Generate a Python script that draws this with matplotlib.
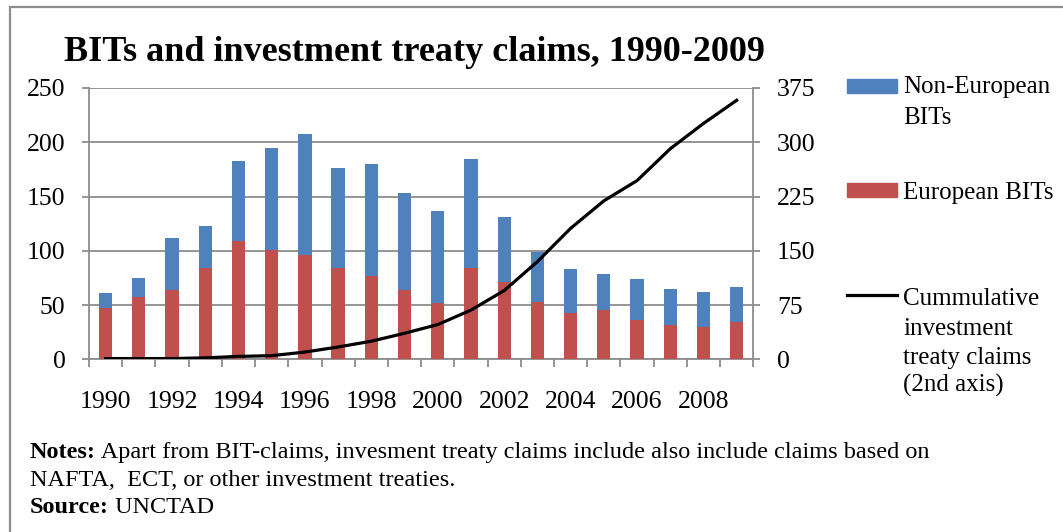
import matplotlib
matplotlib.use("Agg")
import numpy as np
import matplotlib.pyplot as plt
from matplotlib.patches import Rectangle
from matplotlib.lines import Line2D

# Data
years = list(range(1990, 2010))
european_bits = [47, 57, 64, 84, 109, 101, 96, 84, 77, 64, 52, 84, 71, 53, 43, 45, 36, 32, 30, 34]
non_european_bits = [14, 18, 48, 39, 74, 94, 112, 92, 103, 89, 85, 101, 60, 46, 40, 34, 38, 33, 32, 33]
cumulative_claims = [1, 1, 1, 2, 4, 5, 10, 17, 25, 36, 48, 68, 95, 135, 181, 219, 247, 291, 326, 358]
left_ticks = [0, 50, 100, 150, 200, 250]
right_ticks = [0, 75, 150, 225, 300, 375]

BLUE = "#4F81BD"
RED = "#C0504D"
GRID = "#8c8c8c"
W, H = 1063, 532

plt.rcParams["font.family"] = ["Liberation Serif", "DejaVu Serif"]

fig = plt.figure(figsize=(W / 100, H / 100), dpi=100)


def fx(px):
    return px / W


def fy(py):
    return 1 - py / H


# Main axes (left scale for bars)
ax = fig.add_axes([fx(89), fy(359.3), fx(753.3 - 89), (359.3 - 88) / H])
x = np.arange(len(years))
ax.bar(x, european_bits, width=0.4, color=RED, zorder=3)
ax.bar(x, non_european_bits, width=0.4, bottom=european_bits, color=BLUE, zorder=3)

ax.set_xlim(-0.5, len(years) - 0.5)
ax.set_ylim(0, 250)
ax.set_yticks(left_ticks)
ax.grid(axis="y", color=GRID, lw=1.3, zorder=0)
ax.tick_params(axis="y", length=5, width=1.3, color=GRID, pad=12, labelsize=18.5)

# category boundaries get tick marks, every second year gets a label
ax.set_xticks(np.arange(-0.5, len(years), 1.0))
ax.set_xticklabels([])
ax.tick_params(axis="x", which="major", length=6, width=1.3, color=GRID)
ax.set_xticks(x[::2], minor=True)
ax.set_xticklabels([str(y) for y in years[::2]], minor=True)
ax.tick_params(axis="x", which="minor", length=0, pad=23, labelsize=18.5)

for side in ["left", "bottom"]:
    ax.spines[side].set_color(GRID)
    ax.spines[side].set_linewidth(1.3)
ax.spines["top"].set_visible(False)
ax.spines["right"].set_visible(False)

# Secondary axis for cumulative claims
ax2 = ax.twinx()
ax2.plot(x, cumulative_claims, color="black", lw=2.3, zorder=4)
ax2.set_ylim(0, 375)
ax2.set_yticks(right_ticks)
ax2.tick_params(axis="y", length=5, width=1.3, color=GRID, pad=12, labelsize=18.5)
ax2.spines["right"].set_color(GRID)
ax2.spines["right"].set_linewidth(1.3)
for side in ["left", "top", "bottom"]:
    ax2.spines[side].set_visible(False)

# Title
fig.text(fx(64), fy(61), "BITs and investment treaty claims, 1990-2009",
         fontsize=26, fontweight="bold", va="baseline", ha="left")

# Legend, laid out like the Excel original (one text per line)
fig.add_artist(Rectangle((fx(847), fy(93)), fx(50), 14 / H, color=BLUE))
fig.add_artist(Rectangle((fx(847), fy(197)), fx(50), 14 / H, color=RED))
fig.add_artist(Line2D([fx(847), fx(897)], [fy(295), fy(295)], color="black", lw=2.3))
legend_lines = [
    (93, "Non-European"), (124, "BITs"),
    (199, "European BITs"),
    (305, "Cummulative"), (335, "investment"), (364, "treaty claims"), (392, "(2nd axis)"),
]
for base, txt in legend_lines:
    fig.text(fx(903), fy(base), txt, fontsize=18, ha="left", va="baseline")

# Notes and source (bold lead-in, then regular text on the same baseline)
note_size = 17.5
t1 = fig.text(fx(30), fy(458), "Notes:", fontweight="bold", fontsize=note_size,
              ha="left", va="baseline")
fig.add_artist(plt.Annotation(
    " Apart from BIT-claims, invesment treaty claims include also include claims based on",
    xy=(1, 0), xycoords=t1, fontsize=note_size, ha="left", va="bottom"))
fig.text(fx(30), fy(486), "NAFTA,  ECT, or other investment treaties.",
         fontsize=note_size, ha="left", va="baseline")
t3 = fig.text(fx(30), fy(513), "Source:", fontweight="bold", fontsize=note_size,
              ha="left", va="baseline")
fig.add_artist(plt.Annotation(" UNCTAD", xy=(1, 0), xycoords=t3,
                              fontsize=note_size, ha="left", va="bottom"))

# Outer frame of the chart area (runs off the right and bottom edges)
fig.add_artist(Rectangle((fx(10), -0.1), 1.2, fy(7) + 0.1, fill=False,
                         edgecolor=GRID, lw=1.6))

fig.savefig("out.png", dpi=100)
